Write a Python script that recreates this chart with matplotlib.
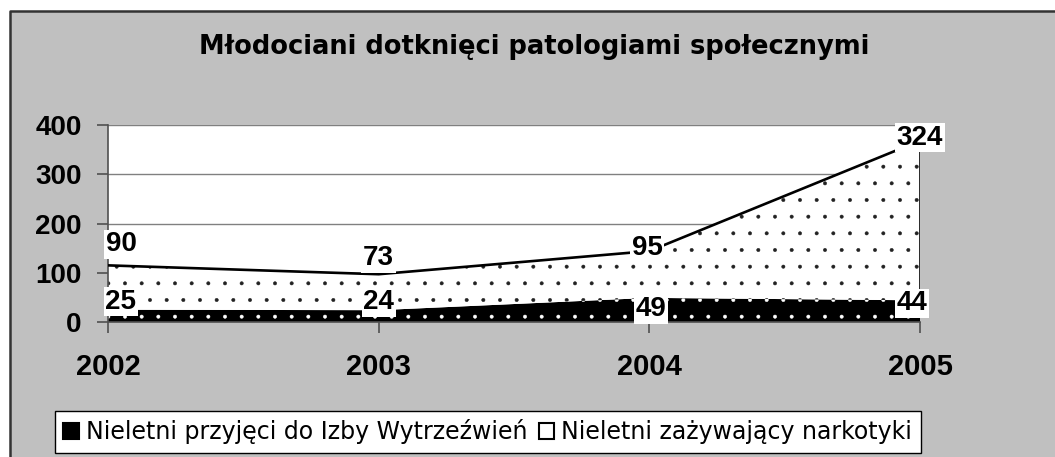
import matplotlib.pyplot as plt
import numpy as np
from matplotlib.patches import Rectangle, Patch
from matplotlib.lines import Line2D

# data
years = ['2002', '2003', '2004', '2005']
sobering = [25, 24, 49, 44]      # Nieletni przyjęci do Izby Wytrzeźwień
drugs = [90, 73, 95, 324]        # Nieletni zażywający narkotyki
series_names = ['Nieletni przyjęci do Izby Wytrzeźwień', 'Nieletni zażywający narkotyki']
title = 'Młodociani dotknięci patologiami społecznymi'

bg = '#c0c0c0'
num_font = ['Liberation Sans', 'DejaVu Sans']
plt.rcParams['hatch.linewidth'] = 0.35

fig = plt.figure(figsize=(10.55, 4.57), dpi=100)
fig.patch.set_facecolor('white')

# grey chart frame, only top and left borders visible
fx0 = 10 / 1055
fy1 = (457 - 11) / 457
fig.patches.append(Rectangle((fx0, 0), 1 - fx0, fy1, transform=fig.transFigure,
                             facecolor=bg, edgecolor='none', zorder=-5))
fig.lines.append(Line2D([fx0, fx0, 1], [0, fy1, fy1], transform=fig.transFigure,
                        color='#333333', lw=1.8, zorder=-4))

ax = fig.add_axes([108 / 1055, 135 / 457, 812 / 1055, 197 / 457])
ax.set_facecolor('white')

x = np.arange(len(years))
bottom = np.array(sobering)
top = bottom + np.array(drugs)

ax.fill_between(x, 0, bottom, facecolor='black', edgecolor='white', hatch='.',
                linewidth=0, zorder=2)
ax.fill_between(x, bottom, top, facecolor='white', edgecolor='#222222', hatch='.',
                linewidth=0, zorder=2)
ax.plot(x, top, color='black', lw=1.9, zorder=3, solid_capstyle='butt')
ax.plot([x[-1], x[-1]], [bottom[-1], top[-1]], color='black', lw=1.9, zorder=3)

# value labels in white boxes (pixel offsets follow the reference placement)
top_offsets = [(13, 21), (0, 16), (-2, 3), (0, 3)]
bottom_offsets = [(13, 8), (0, 8), (2, -11), (-8, -3)]
for i in range(len(years)):
    for val, yy, off in [(drugs[i], top[i], top_offsets[i]),
                         (sobering[i], bottom[i], bottom_offsets[i])]:
        ax.annotate(str(val), (x[i], yy), xytext=off, textcoords='offset pixels',
                    ha='center', va='center', fontsize=20, fontweight='bold',
                    family=num_font, annotation_clip=False, zorder=5,
                    bbox=dict(facecolor='white', edgecolor='none', pad=1.2))

ax.set_xlim(0, 3)
ax.set_ylim(0, 400)
ax.set_yticks([0, 100, 200, 300, 400])
ax.set_xticks(x)
ax.set_xticklabels(years)
ax.yaxis.grid(True, color='#808080', lw=1)
ax.set_axisbelow(True)
for s in ['top', 'right']:
    ax.spines[s].set_visible(False)
for s in ['left', 'bottom']:
    ax.spines[s].set_color('#505050')
    ax.spines[s].set_linewidth(1.2)
ax.tick_params(axis='both', direction='out', length=8, color='#505050', width=1.2)
ax.tick_params(axis='y', pad=11)
ax.tick_params(axis='x', pad=14)
for lab in ax.get_yticklabels():
    lab.set_fontsize(20)
    lab.set_fontweight('bold')
    lab.set_family(num_font)
for lab in ax.get_xticklabels():
    lab.set_fontsize(21)
    lab.set_fontweight('bold')
    lab.set_family(num_font)

fig.text(0.506, 0.897, title, ha='center', va='center', fontsize=18.5,
         fontweight='bold', family='DejaVu Sans')

handles = [Patch(facecolor='black', edgecolor='black', linewidth=1.5),
           Patch(facecolor='white', edgecolor='black', linewidth=1.5)]
leg = fig.legend(handles, series_names, loc='upper left', ncol=2,
                 bbox_to_anchor=(55 / 1055, 1 - 411 / 457), frameon=True,
                 fancybox=False, framealpha=1,
                 prop={'family': 'DejaVu Sans', 'size': 17},
                 handlelength=0.65, handleheight=0.65, handletextpad=0.3,
                 columnspacing=0.5, borderpad=0.35, borderaxespad=0)
leg.get_frame().set_edgecolor('black')
leg.get_frame().set_linewidth(1)
leg.get_frame().set_facecolor('white')

fig.savefig('out.png', dpi=100)
